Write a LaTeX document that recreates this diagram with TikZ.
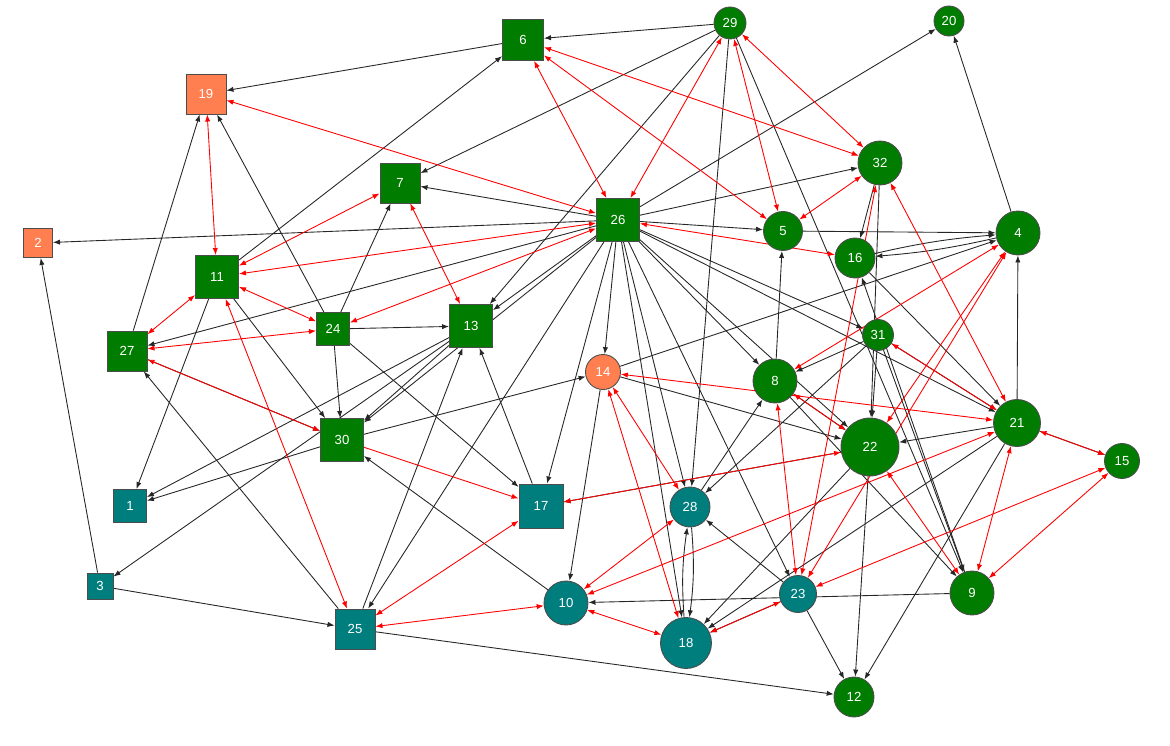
\documentclass[tikz,border=0pt]{standalone}
\usepackage{fontspec}
\setmainfont{Liberation Sans}
\usetikzlibrary{arrows.meta}
\pgfdeclarelayer{bg}
\pgfsetlayers{bg,main}
\definecolor{nodegreen}{RGB}{0,125,0}
\definecolor{nodeteal}{RGB}{0,125,125}
\definecolor{nodeorange}{RGB}{255,127,80}

\begin{document}
\begin{tikzpicture}[x=0.02cm,y=-0.02cm,
  every node/.style={font=\fontsize{7.5}{8}\selectfont, text=white, draw=black!70, line width=0.5pt, inner sep=0pt},
  gsq/.style={rectangle, fill=nodegreen},
  tsq/.style={rectangle, fill=nodeteal},
  osq/.style={rectangle, fill=nodeorange},
  gci/.style={circle, fill=nodegreen},
  tci/.style={circle, fill=nodeteal},
  oci/.style={circle, fill=nodeorange},
  blk/.style={-{Latex[length=4pt,width=3pt]}, black!85, line width=0.5pt},
  rd/.style={{Latex[length=4pt,width=3pt]}-{Latex[length=4pt,width=3pt]}, red, line width=0.5pt},
  rdone/.style={-{Latex[length=4pt,width=3pt]}, red, line width=0.5pt}]
		\useasboundingbox (0,0) rectangle (1170,746);
		% squares
		\node[osq,minimum size=0.80cm] (n19) at (206,94)  {19};
		\node[osq,minimum size=0.58cm] (n2)  at (38,243)  {2};
		\node[gsq,minimum size=0.82cm] (n6)  at (523,40)  {6};
		\node[gsq,minimum size=0.80cm] (n7)  at (400,183) {7};
		\node[gsq,minimum size=0.86cm] (n26) at (618,220) {26};
		\node[gsq,minimum size=0.86cm] (n11) at (217,277) {11};
		\node[gsq,minimum size=0.80cm] (n27) at (127,351) {27};
		\node[gsq,minimum size=0.66cm] (n24) at (333,329) {24};
		\node[gsq,minimum size=0.86cm] (n13) at (471,326) {13};
		\node[gsq,minimum size=0.86cm] (n30) at (342,440) {30};
		\node[tsq,minimum size=0.66cm] (n1)  at (130,506) {1};
		\node[tsq,minimum size=0.88cm] (n17) at (541,506) {17};
		\node[tsq,minimum size=0.80cm] (n25) at (355,629) {25};
		\node[tsq,minimum size=0.52cm] (n3)  at (100,586) {3};
		% circles
		\node[gci,minimum size=0.64cm] (n29) at (730,23)  {29};
		\node[gci,minimum size=0.60cm] (n20) at (949,21)  {20};
		\node[gci,minimum size=0.88cm] (n32) at (880,163) {32};
		\node[gci,minimum size=0.78cm] (n5)  at (783,231) {5};
		\node[gci,minimum size=0.88cm] (n4)  at (1018,233) {4};
		\node[gci,minimum size=0.80cm] (n16) at (855,258) {16};
		\node[gci,minimum size=0.62cm] (n31) at (878,335) {31};
		\node[oci,minimum size=0.70cm] (n14) at (603,372) {14};
		\node[gci,minimum size=0.88cm] (n8)  at (775,381) {8};
		\node[gci,minimum size=0.94cm] (n21) at (1017,423) {21};
		\node[gci,minimum size=1.16cm] (n22) at (870,447) {22};
		\node[gci,minimum size=0.70cm] (n15) at (1122,461) {15};
		\node[tci,minimum size=0.80cm] (n28) at (690,507) {28};
		\node[gci,minimum size=0.88cm] (n9)  at (972,593) {9};
		\node[tci,minimum size=0.74cm] (n23) at (798,594) {23};
		\node[tci,minimum size=0.88cm] (n10) at (566,603) {10};
		\node[tci,minimum size=1.02cm] (n18) at (686,643) {18};
		\node[gci,minimum size=0.80cm] (n12) at (854,697) {12};
		\begin{pgfonlayer}{bg}
		% black links
		\foreach \a/\b in {29/6, 6/19, 29/7, 11/6, 26/20, 4/20, 29/9, 31/9, 29/28, 29/13,
			26/7, 26/2, 26/5, 5/4, 26/32, 26/13, 26/30, 26/25, 26/14, 26/17, 26/18, 26/28,
			26/23, 26/8, 26/22, 26/31, 26/21, 26/27, 24/7, 27/19, 24/19, 3/2, 32/16, 32/22,
			16/21, 31/21, 21/4, 8/5, 14/4, 31/8, 31/28, 31/22, 8/22, 8/9, 14/22, 14/10,
			30/14, 21/22, 22/12, 22/18, 9/10, 21/15, 21/12, 21/18, 23/12, 23/28, 23/18,
			28/8, 10/30, 24/17, 17/13, 25/12, 3/25, 25/27, 25/13, 24/13, 24/30, 13/30,
			13/1, 13/3, 11/30, 27/30, 30/1, 11/1, 9/16, 22/17}
			\draw[blk] (n\a) -- (n\b);
		\draw[blk] (n28) to[bend left=6] (n18);
		\draw[blk] (n18) to[bend left=6] (n28);
		\draw[blk] (n4) to[bend left=4] (n16);
		\draw[blk] (n16) to[bend left=4] (n4);
		% red links
		\foreach \a/\b in {29/26, 6/26, 6/5, 6/32, 19/26, 29/5, 29/32, 5/32, 32/21, 32/23,
			19/11, 11/7, 7/13, 26/16, 4/8, 4/22, 4/23, 31/21, 8/22, 14/21, 14/28, 14/18,
			22/9, 21/9, 15/9, 21/15, 23/15, 8/23, 10/21, 10/28, 10/18, 10/25, 23/18, 17/25,
			11/25, 27/11, 27/24, 27/30, 11/24, 26/24, 26/11, 22/17}
			\draw[rd] (n\a) -- (n\b);
		\draw[rdone] (n30) -- (n17);
		\end{pgfonlayer}
\end{tikzpicture}
\end{document}
